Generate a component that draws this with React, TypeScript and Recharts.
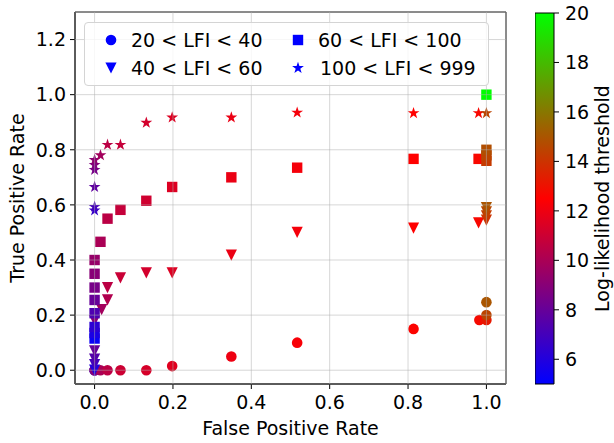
import React from "react";
import {
  ScatterChart,
  Scatter,
  XAxis,
  YAxis,
  CartesianGrid,
  Legend,
  ReferenceArea,
} from "recharts";

const FONT = "DejaVu Sans, sans-serif";

// 20 < LFI < 40
const lfi20Fpr = [0, 0, 0, 0.015, 0.033, 0.066, 0.132, 0.198, 0.349, 0.517, 0.814, 0.982, 1.0, 1.0, 1.0];
const lfi20Tpr = [0, 0, 0, 0, 0, 0, 0, 0.015, 0.05, 0.1, 0.15, 0.182, 0.182, 0.2, 0.247];
const lfi20Thr = [6, 7.5, 9, 10, 10.5, 11, 11.3, 11.6, 12, 12.3, 12.6, 12.8, 13.2, 14.5, 15];

// 40 < LFI < 60
const lfi40Fpr = [0, 0, 0, 0, 0, 0.018, 0.033, 0.033, 0.066, 0.132, 0.198, 0.349, 0.517, 0.814, 0.98, 1.0, 1.0, 1.0, 1.0];
const lfi40Tpr = [0, 0.02, 0.04, 0.07, 0.18, 0.22, 0.255, 0.3, 0.335, 0.353, 0.353, 0.418, 0.5, 0.516, 0.535, 0.545, 0.56, 0.575, 0.59];
const lfi40Thr = [6, 7, 7.5, 8, 9, 9.8, 10.2, 10.5, 10.9, 11.2, 11.5, 11.9, 12.2, 12.5, 12.7, 14, 14.3, 14.6, 15];

// 60 < LFI < 100
const lfi60Fpr = [0, 0, 0, 0, 0, 0, 0, 0, 0.015, 0.033, 0.066, 0.132, 0.198, 0.349, 0.517, 0.814, 0.98, 1.0, 1.0, 1.0, 1.0];
const lfi60Tpr = [0.115, 0.135, 0.157, 0.207, 0.255, 0.3, 0.35, 0.4, 0.466, 0.55, 0.582, 0.615, 0.665, 0.7, 0.735, 0.767, 0.767, 0.76, 0.78, 0.8, 1.0];
const lfi60Thr = [5.3, 5.8, 6.3, 7.3, 8, 8.5, 9, 9.4, 10, 10.5, 10.8, 11.1, 11.5, 11.9, 12.2, 12.5, 12.7, 14.2, 14.5, 14.8, 20];

// 100 < LFI < 999
const lfi100Fpr = [0, 0, 0, 0, 0, 0, 0.015, 0.033, 0.066, 0.132, 0.198, 0.349, 0.517, 0.814, 0.98, 1.0];
const lfi100Tpr = [0.58, 0.593, 0.665, 0.727, 0.745, 0.763, 0.78, 0.818, 0.818, 0.898, 0.917, 0.917, 0.935, 0.933, 0.933, 0.933];
const lfi100Thr = [6.6, 7, 7.8, 8.5, 8.8, 9.2, 9.8, 10.5, 10.8, 11.2, 11.5, 11.9, 12.2, 12.5, 12.7, 14.5];

const xTicks = [0, 0.2, 0.4, 0.6, 0.8, 1.0];
const yTicks = [0, 0.2, 0.4, 0.6, 0.8, 1.0, 1.2];
const cbTicks = [6, 8, 10, 12, 14, 16, 18, 20];
const cbRange = [5, 20];

const build = (fpr: number[], tpr: number[], thr: number[]) =>
  fpr.map((f, i) => ({ fpr: f, tpr: tpr[i], thr: thr[i] }));

const series = [
  { name: "20 < LFI < 40", kind: "circle", data: build(lfi20Fpr, lfi20Tpr, lfi20Thr) },
  { name: "40 < LFI < 60", kind: "tri", data: build(lfi40Fpr, lfi40Tpr, lfi40Thr) },
  { name: "60 < LFI < 100", kind: "square", data: build(lfi60Fpr, lfi60Tpr, lfi60Thr) },
  { name: "100 < LFI < 999", kind: "star", data: build(lfi100Fpr, lfi100Tpr, lfi100Thr) },
];

// matplotlib "brg" colormap
function brg(v: number) {
  let t = (v - cbRange[0]) / (cbRange[1] - cbRange[0]);
  t = Math.max(0, Math.min(1, t));
  let r, g, b;
  if (t < 0.5) {
    r = 2 * t;
    g = 0;
    b = 1 - 2 * t;
  } else {
    r = 2 * (1 - t);
    g = 2 * t - 1;
    b = 0;
  }
  return `rgb(${Math.round(r * 255)},${Math.round(g * 255)},${Math.round(b * 255)})`;
}

function Marker({ kind, cx, cy, color }: { kind: string; cx: number; cy: number; color: string }) {
  if (kind === "circle") return <circle cx={cx} cy={cy} r={5.3} fill={color} />;
  if (kind === "square") return <rect x={cx - 5.2} y={cy - 5.2} width={10.4} height={10.4} fill={color} />;
  if (kind === "tri") {
    const h = 5.6;
    return <polygon points={`${cx - h},${cy - h} ${cx + h},${cy - h} ${cx},${cy + h}`} fill={color} />;
  }
  const pts: string[] = [];
  for (let i = 0; i < 10; i++) {
    const r = i % 2 === 0 ? 6.2 : 2.4;
    const a = -Math.PI / 2 + (i * Math.PI) / 5;
    pts.push(`${cx + r * Math.cos(a)},${cy + r * Math.sin(a)}`);
  }
  return <polygon points={pts.join(" ")} fill={color} />;
}

function LegendBox() {
  const items = [
    { ...series[0], x: 27, y: 18, tx: 47 },
    { ...series[1], x: 27, y: 46, tx: 47 },
    { ...series[2], x: 214, y: 18, tx: 234 },
    { ...series[3], x: 214, y: 46, tx: 236 },
  ];
  return (
    <div
      style={{
        position: "relative",
        width: 405,
        height: 64,
        boxSizing: "border-box",
        border: "1px solid #d4d4d4",
        borderRadius: 4,
        background: "rgba(255,255,255,0.8)",
        fontFamily: FONT,
        fontSize: 19,
        color: "#000",
      }}
    >
      <svg width={405} height={64} style={{ position: "absolute", left: -1, top: -1 }}>
        {items.map((it) => (
          <Marker key={it.name} kind={it.kind} cx={it.x} cy={it.y} color="#0000ff" />
        ))}
      </svg>
      {items.map((it) => (
        <span
          key={it.name}
          style={{ position: "absolute", left: it.tx - 1, top: it.y - 12, lineHeight: "22px", whiteSpace: "pre" }}
        >
          {it.name}
        </span>
      ))}
    </div>
  );
}

const tickStyle = { fill: "#000", fontSize: 19, fontFamily: FONT };

export default function App() {
  return (
    <div style={{ position: "absolute", left: 0, top: 0, width: 614, height: 443, background: "#fff" }}>
      <ScatterChart
        width={614}
        height={443}
        margin={{ top: 12, right: 108, bottom: 0, left: 15 }}
        style={{ fontFamily: FONT }}
      >
        <CartesianGrid stroke="#b0b0b0" strokeOpacity={0.5} strokeWidth={1} zIndex={650} />
        <XAxis
          type="number"
          dataKey="fpr"
          domain={[-0.05, 1.05]}
          ticks={xTicks}
          tickFormatter={(v: number) => v.toFixed(1)}
          height={59}
          tickSize={5}
          tickMargin={7}
          tick={tickStyle}
          stroke="#000"
          allowDataOverflow
          label={{ value: "False Positive Rate", position: "insideBottom", offset: 8, fill: "#000", fontSize: 19 }}
        />
        <YAxis
          type="number"
          dataKey="tpr"
          domain={[-0.05, 1.3]}
          ticks={yTicks}
          tickFormatter={(v: number) => v.toFixed(1)}
          width={60}
          tickSize={5}
          tickMargin={4}
          tick={tickStyle}
          stroke="#000"
          allowDataOverflow
          label={{
            value: "True Positive Rate",
            angle: -90,
            position: "insideLeft",
            offset: 2,
            fill: "#000",
            fontSize: 19,
            style: { textAnchor: "middle" },
          }}
        />
        {series.map((s) => (
          <Scatter
            key={s.name}
            name={s.name}
            data={s.data}
            isAnimationActive={false}
            shape={(p: any) => <Marker kind={s.kind} cx={p.cx} cy={p.cy} color={brg(p.payload.thr)} />}
          />
        ))}
        <ReferenceArea x1={-0.05} x2={1.05} y1={-0.05} y2={1.3} fill="none" stroke="#000" strokeWidth={1} ifOverflow="visible" />
        <Legend
          layout="horizontal"
          verticalAlign="middle"
          content={() => <LegendBox />}
          wrapperStyle={{ position: "absolute", left: 84, top: 22, width: 405, height: 64 }}
        />
      </ScatterChart>

      <div style={{ position: "absolute", left: 535, top: 0 }}>
        <ScatterChart width={79} height={443} margin={{ top: 13, right: 0, bottom: 59, left: 0 }} style={{ fontFamily: FONT }}>
          <defs>
            <linearGradient id="brgGrad" x1="0" y1="1" x2="0" y2="0">
              <stop offset="0" stopColor="#0000ff" />
              <stop offset="0.5" stopColor="#ff0000" />
              <stop offset="1" stopColor="#00ff00" />
            </linearGradient>
          </defs>
          <XAxis type="number" dataKey="x" domain={[0, 1]} hide />
          <YAxis
            type="number"
            dataKey="v"
            orientation="right"
            domain={cbRange}
            ticks={cbTicks}
            width={60}
            tickSize={5}
            tickMargin={6}
            tick={tickStyle}
            stroke="#000"
            axisLine={false}
            label={{
              value: "Log-likelihood threshold",
              angle: -90,
              position: "insideRight",
              offset: 12,
              fill: "#000",
              fontSize: 19,
              style: { textAnchor: "middle" },
            }}
          />
          <Scatter
            data={[{ x: 0, v: cbRange[0] }, { x: 1, v: cbRange[1] }]}
            isAnimationActive={false}
            shape={() => <g />}
          />
          <ReferenceArea x1={0} x2={1} y1={cbRange[0]} y2={cbRange[1]} fill="url(#brgGrad)" fillOpacity={1} stroke="#000" strokeWidth={1} />
        </ScatterChart>
      </div>
    </div>
  );
}
